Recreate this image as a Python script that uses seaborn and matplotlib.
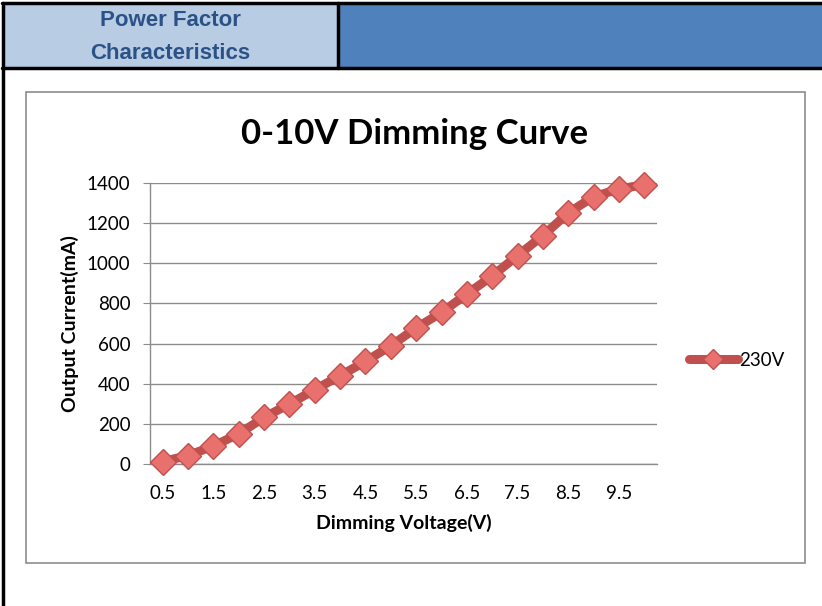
import matplotlib
matplotlib.use("Agg")
import matplotlib.pyplot as plt
from matplotlib.patches import Rectangle
from matplotlib.lines import Line2D
import pandas as pd
import seaborn as sns

# dimming voltage steps and measured output current
voltage = [0.5, 1.0, 1.5, 2.0, 2.5, 3.0, 3.5, 4.0, 4.5, 5.0,
           5.5, 6.0, 6.5, 7.0, 7.5, 8.0, 8.5, 9.0, 9.5, 10.0]
current_230v = [12, 42, 90, 150, 232, 299, 370, 440, 511, 589,
                678, 755, 847, 937, 1038, 1138, 1251, 1332, 1370, 1392]
xtick_labels = ["0.5", "1.5", "2.5", "3.5", "4.5", "5.5", "6.5", "7.5", "8.5", "9.5"]
yticks = [0, 200, 400, 600, 800, 1000, 1200, 1400]

df = pd.DataFrame({"Dimming Voltage(V)": voltage, "Output Current(mA)": current_230v})

sns.set_style("white")
plt.rcParams['font.family'] = ['Lato', 'DejaVu Sans']
plt.rcParams['text.color'] = 'black'
plt.rcParams['axes.labelcolor'] = 'black'
plt.rcParams['xtick.color'] = 'black'
plt.rcParams['ytick.color'] = 'black'

W, H = 822, 606
fig = plt.figure(figsize=(W / 100, H / 100), dpi=100)

def px(x0, y0, x1, y1):
    # pixel box -> figure fraction rect
    return (x0 / W, 1 - y1 / H, (x1 - x0) / W, (y1 - y0) / H)

def add_box(box, **kw):
    l, b, w, h = px(*box)
    fig.patches.append(Rectangle((l, b), w, h, transform=fig.transFigure, zorder=-1, **kw))

# header table
add_box((3, 3, 338, 68), facecolor="#B8CCE4", edgecolor="none")
add_box((338, 3, 822, 68), facecolor="#4F81BD", edgecolor="none")
for (xa, ya, xb, yb) in [(2, 3, 822, 3), (2, 68, 822, 68), (3, 3, 3, 606), (338, 3, 338, 68)]:
    fig.lines.append(Line2D([xa / W, xb / W], [1 - ya / H, 1 - yb / H], transform=fig.transFigure,
                            color="black", lw=2.5))
fig.text(170 / W, 1 - 37 / H, "Power Factor\nCharacteristics", ha="center", va="center",
         fontsize=16, fontweight="bold", color="#2B5287", family="Liberation Sans", linespacing=1.7)

# chart frame
add_box((26, 92, 805, 563), facecolor="white", edgecolor="#8C8C8C", lw=1.2)

ax = fig.add_axes(px(150, 183, 657, 464))
ax.set_zorder(2)
ax.set_facecolor("none")
sns.lineplot(data=df, x="Dimming Voltage(V)", y="Output Current(mA)", ax=ax,
             color="#C0504D", lw=6.5, marker="D", markersize=13,
             markerfacecolor="#E8706D", markeredgecolor="#C0504D", markeredgewidth=1,
             label="230V", clip_on=False, zorder=3)

ax.set_xlim(0.25, 10.25)
ax.set_ylim(0, 1400)
ax.set_xticks([float(t) for t in xtick_labels])
ax.set_xticklabels(xtick_labels)
ax.set_yticks(yticks)
ax.tick_params(axis="x", length=0, labelsize=13.5, pad=15)
ax.tick_params(axis="y", length=5, color="#8C8C8C", labelsize=13.5, pad=9, left=True)
ax.yaxis.grid(True, color="#8C8C8C", lw=1)
ax.xaxis.grid(False)
for s in ["top", "right"]:
    ax.spines[s].set_visible(False)
for s in ["left", "bottom"]:
    ax.spines[s].set_color("#8C8C8C")
    ax.spines[s].set_linewidth(1)
ax.set_xlabel("Dimming Voltage(V)", fontsize=14, fontweight="bold", labelpad=9)
ax.set_ylabel("Output Current(mA)", fontsize=14, fontweight="bold", labelpad=6)

leg = ax.legend(loc="center left", bbox_to_anchor=(1.03, 0.37), frameon=False, fontsize=13.5,
                handlelength=2.6, handletextpad=0.05)
for h in leg.legend_handles:
    h.set_markersize(10)

fig.text(415 / W, 1 - 134 / H, "0-10V Dimming Curve", ha="center", va="center",
         fontsize=25, fontweight="bold")

fig.savefig("out.png", dpi=100)
